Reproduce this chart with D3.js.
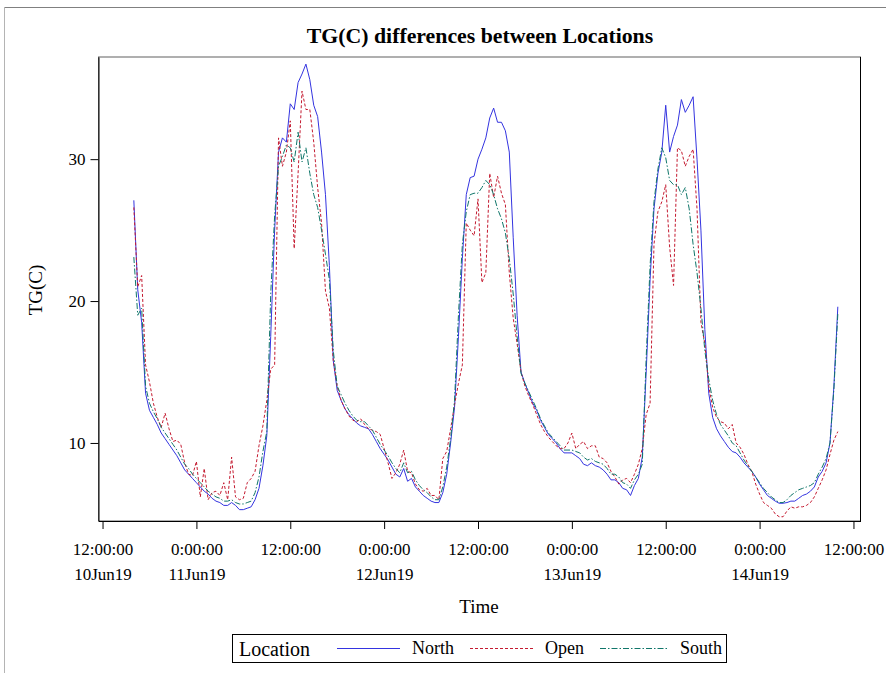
<!DOCTYPE html>
<html><head><meta charset="utf-8">
<script src="https://cdn.jsdelivr.net/npm/d3@7"></script>
<style>
body{margin:0;background:#fff}
svg{display:block}
text{font-family:"Liberation Serif","Times New Roman",serif;fill:#000}
</style>
</head><body>
<svg id="chart" width="886" height="673"></svg>
<script>
// ---------------- data ----------------
const chartTitle = "TG(C) differences between Locations";
const yLabel = "TG(C)";
const xLabel = "Time";
const legendTitle = "Location";
const seriesNames = ["North", "Open", "South"];
// readings every 30 minutes from 10Jun19 16:00 to 14Jun19 10:00
const firstReading = new Date(2019, 5, 10, 16, 0);
const stepMinutes = 30;

const north = [
  27.1,20.8,18.5,13.5,12.3,11.8,11.3,10.7,10.3,9.9,
  9.5,9.1,8.6,8.1,7.8,7.5,7.2,6.9,6.6,6.4,
  6.1,5.9,5.8,5.6,5.6,5.8,5.6,5.3,5.3,5.4,
  5.5,6.0,6.8,8.4,10.5,17.5,25.0,30.5,31.5,31.2,
  33.9,33.5,35.4,36.0,36.7,35.6,33.8,33.0,30.5,27.5,
  22.5,15.8,13.7,13.0,12.4,12.0,11.7,11.4,11.2,11.1,
  11.0,10.6,10.1,9.6,9.2,8.8,8.3,7.8,7.6,8.2,
  7.3,7.5,6.9,6.6,6.3,6.1,5.9,5.8,5.8,6.5,
  7.8,10.0,12.5,17.5,23.0,27.5,28.7,28.8,30.0,30.7,
  31.5,32.9,33.6,32.6,32.6,32.0,30.5,24.5,19.0,15.0,
  14.2,13.5,12.8,12.3,11.6,11.1,10.6,10.3,10.0,9.6,
  9.3,9.3,9.3,9.1,8.9,8.5,8.4,8.6,8.4,8.3,
  8.1,7.8,7.4,7.4,7.2,6.8,6.7,6.3,7.0,7.5,
  9.0,15.0,21.5,26.5,29.0,30.5,33.8,30.5,31.6,32.4,
  34.2,33.3,33.8,34.4,30.0,25.0,18.0,13.5,11.8,11.0,
  10.5,10.1,9.7,9.4,9.3,9.0,8.6,8.3,8.0,7.6,
  7.1,6.7,6.3,6.1,5.9,5.75,5.75,5.8,5.9,5.9,
  6.1,6.3,6.4,6.6,6.9,7.6,8.0,8.6,10.0,14.0,
  19.6
];
const open = [
  26.6,21.0,21.8,15.5,14.3,12.8,11.8,11.1,12.1,11.0,
  10.1,10.2,9.9,8.6,7.8,7.7,8.7,6.2,8.2,6.0,
  6.5,6.6,6.3,7.2,6.0,9.0,6.2,6.0,6.1,7.2,
  7.5,8.0,9.8,11.2,13.0,15.2,15.5,31.5,29.5,30.5,
  32.7,23.7,29.0,34.8,33.5,33.5,31.2,28.0,25.5,20.7,
  19.5,15.8,14.0,13.0,12.4,11.9,11.6,11.5,11.7,11.3,
  11.0,10.9,10.8,10.6,9.6,8.6,7.5,7.9,8.5,9.5,
  8.0,7.9,7.1,6.7,6.6,6.8,6.3,6.3,6.0,8.9,
  9.4,11.0,12.7,14.2,15.5,25.5,25.0,24.6,27.2,21.3,
  22.0,29.0,27.3,28.8,27.6,26.8,22.0,18.8,17.0,15.0,
  14.0,13.3,12.7,12.0,11.3,10.8,10.4,10.1,9.8,9.6,
  9.6,10.0,10.7,9.6,9.9,10.1,9.6,9.8,9.8,9.0,
  8.9,8.6,8.0,7.6,7.1,7.4,7.5,7.2,7.8,8.5,
  9.6,12.0,12.8,24.0,26.3,27.0,28.2,23.8,21.1,30.8,
  30.6,29.5,30.2,30.7,26.5,18.5,17.0,14.0,12.5,11.8,
  11.5,11.4,11.0,11.3,10.0,9.7,9.2,8.5,8.0,7.1,
  6.4,5.8,5.6,5.4,5.0,4.8,4.8,5.2,5.5,5.4,
  5.5,5.5,5.6,5.8,6.2,6.8,7.4,8.1,9.2,10.2,
  10.8
];
const south = [
  23.1,19.0,19.5,14.0,12.8,12.2,11.7,11.1,10.7,10.3,
  9.9,9.5,9.0,8.5,8.2,7.8,7.5,7.2,6.9,6.6,
  6.4,6.2,6.1,5.9,5.9,6.0,5.8,5.7,5.7,5.8,
  5.9,6.5,7.6,9.4,10.8,20.5,26.0,29.5,30.2,31.0,
  30.8,29.8,31.9,29.8,30.8,29.0,27.5,26.6,25.0,23.3,
  21.5,16.5,14.0,13.4,12.8,12.3,11.9,11.6,11.5,11.5,
  11.2,10.9,10.4,9.9,9.5,9.1,8.6,8.2,7.9,8.6,
  7.9,8.0,7.4,7.0,6.7,6.5,6.2,6.0,6.0,6.9,
  8.3,10.3,13.0,19.0,24.0,26.3,27.5,27.6,27.6,28.0,
  28.5,28.2,27.5,26.5,25.8,24.8,23.0,20.5,17.5,14.9,
  14.2,13.6,13.0,12.4,11.7,11.2,10.7,10.4,10.1,9.8,
  9.5,9.5,9.5,9.4,9.3,9.0,8.8,8.9,8.7,8.6,
  8.5,8.2,7.8,7.8,7.6,7.2,7.1,6.8,7.4,7.8,
  8.5,16.0,22.5,27.0,29.3,30.8,30.1,28.5,28.2,28.2,
  27.5,28.0,26.5,24.0,22.0,19.5,16.5,14.5,13.0,12.0,
  11.3,10.9,10.5,10.0,9.8,9.3,8.8,8.4,8.0,7.6,
  7.2,6.8,6.5,6.2,6.0,5.8,5.8,6.0,6.3,6.5,
  6.7,6.8,6.9,7.0,7.2,7.8,8.3,8.9,10.0,13.8,
  19.1
];

const xTickTimes = [
  new Date(2019,5,10,12), new Date(2019,5,11,0), new Date(2019,5,11,12),
  new Date(2019,5,12,0), new Date(2019,5,12,12), new Date(2019,5,13,0),
  new Date(2019,5,13,12), new Date(2019,5,14,0), new Date(2019,5,14,12)
];
const xTickTimeLabels = ["12:00:00","0:00:00","12:00:00","0:00:00","12:00:00","0:00:00","12:00:00","0:00:00","12:00:00"];
const xTickDateLabels = ["10Jun19","11Jun19","","12Jun19","","13Jun19","","14Jun19",""];
const yTicks = [10, 20, 30];
const xDomain = [new Date(2019,5,10,11,29), new Date(2019,5,14,12,54)];
const yDomain = [4.5, 37.2];

// ---------------- drawing ----------------
const svg = d3.select("#chart");
const plot = {left: 98.5, right: 860.5, top: 57, bottom: 521};

const x = d3.scaleTime().domain(xDomain).range([plot.left, plot.right]);
const y = d3.scaleLinear().domain(yDomain).range([plot.bottom, plot.top]);

// outer frame lines
svg.append("line").attr("x1",4).attr("x2",886).attr("y1",7.5).attr("y2",7.5)
  .attr("stroke","#808080").attr("stroke-width",1);
svg.append("line").attr("x1",4.5).attr("x2",4.5).attr("y1",7).attr("y2",673)
  .attr("stroke","#b4b4b4").attr("stroke-width",1);

// title
svg.append("text").attr("x",480).attr("y",43).attr("text-anchor","middle")
  .attr("font-size","21.8px").attr("font-weight","bold").text(chartTitle);

// plot frame
svg.append("rect").attr("x",plot.left).attr("y",plot.top)
  .attr("width",plot.right-plot.left).attr("height",plot.bottom-plot.top)
  .attr("fill","none").attr("stroke","#606060").attr("stroke-width",1);
svg.append("line").attr("x1",plot.right).attr("x2",plot.right).attr("y1",plot.top).attr("y2",plot.bottom)
  .attr("stroke","#000");

// series
const times = north.map((_, i) => new Date(firstReading.getTime() + i*stepMinutes*60000));
const seriesValues = [north, open, south];
const seriesStyles = [
  {color:"#3434e0", dash:null},
  {color:"#c41a30", dash:"3,2"},
  {color:"#10766a", dash:"6,2,1.5,2"}
];
const line = d3.line().x(d => x(d[0])).y(d => y(d[1]));
seriesValues.forEach((vals, k) => {
  svg.append("path")
    .datum(vals.map((v,i) => [times[i], v]))
    .attr("fill","none")
    .attr("stroke", seriesStyles[k].color)
    .attr("stroke-width", 1)
    .attr("stroke-dasharray", seriesStyles[k].dash)
    .attr("stroke-linejoin","round")
    .attr("d", line);
});

// y axis
const yAxis = svg.append("g").attr("transform",`translate(${plot.left},0)`)
  .call(d3.axisLeft(y).tickValues(yTicks).tickSize(8).tickSizeOuter(0).tickPadding(5).tickFormat(d3.format("d")));
yAxis.select(".domain").attr("stroke","#000");
yAxis.selectAll(".tick line").attr("stroke","#000");
yAxis.selectAll(".tick text").attr("font-size","17px").attr("font-family",'"Liberation Serif",serif').attr("fill","#000");

// x axis
const xAxis = svg.append("g").attr("transform",`translate(0,${plot.bottom})`)
  .call(d3.axisBottom(x).tickValues(xTickTimes).tickSize(8).tickSizeOuter(0).tickFormat(""));
xAxis.select(".domain").attr("stroke","#000");
xAxis.selectAll(".tick line").attr("stroke","#000");
xAxis.selectAll(".tick text").remove();
xAxis.selectAll(".tick").each(function(d, i) {
  const g = d3.select(this);
  g.append("text").attr("y",34).attr("text-anchor","middle").attr("font-size","17px")
    .text(xTickTimeLabels[i]);
  if (xTickDateLabels[i]) {
    g.append("text").attr("y",59).attr("text-anchor","middle").attr("font-size","17px")
      .text(xTickDateLabels[i]);
  }
});

// axis labels
svg.append("text").attr("x",479).attr("y",613).attr("text-anchor","middle")
  .attr("font-size","19px").text(xLabel);
svg.append("text").attr("transform","translate(42,290) rotate(-90)").attr("text-anchor","middle")
  .attr("font-size","19px").text(yLabel);

// legend
const legend = svg.append("g");
legend.append("rect").attr("x",232.5).attr("y",634.5).attr("width",494).attr("height",28)
  .attr("fill","#fff").attr("stroke","#000");
legend.append("text").attr("x",239).attr("y",656).attr("font-size","20px").text(legendTitle);
const legendLineX = [337, 470, 600];
const legendLineW = [63, 63, 68];
const legendTextX = [412, 545, 680];
seriesNames.forEach((name, k) => {
  legend.append("line").attr("x1",legendLineX[k]).attr("x2",legendLineX[k]+legendLineW[k])
    .attr("y1",648.5).attr("y2",648.5)
    .attr("stroke",seriesStyles[k].color).attr("stroke-width",1)
    .attr("stroke-dasharray",seriesStyles[k].dash);
  legend.append("text").attr("x",legendTextX[k]).attr("y",654).attr("font-size","18px").text(name);
});
</script>
</body></html>
